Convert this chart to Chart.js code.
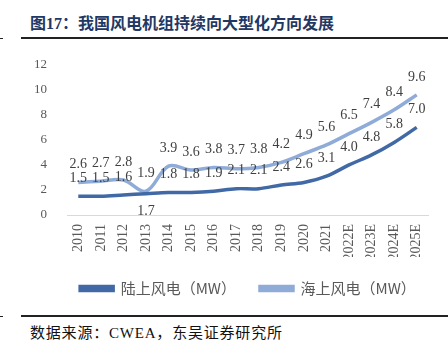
<!DOCTYPE html>
<html>
<head>
<meta charset="utf-8">
<script src="https://cdn.jsdelivr.net/npm/chart.js@4/dist/chart.umd.min.js"></script>
<style>
  html, body { margin: 0; padding: 0; background: #fff; }
  #wrap { position: relative; width: 448px; height: 348px; overflow: hidden; }
  #title { position: absolute; left: 30px; top: 10px; font-family: "Liberation Serif", "Noto Sans CJK SC", serif; font-weight: bold; font-size: 16px; color: #1f3864; white-space: nowrap; }
  .rule { position: absolute; height: 2px; background: #222; }
  #source { position: absolute; left: 30px; top: 321px; font-family: "Liberation Serif", "Noto Sans CJK SC", serif; font-size: 15px; letter-spacing: 0.8px; color: #111; white-space: nowrap; }
  #box { position: absolute; left: 0; top: 45px; width: 448px; height: 265px; }
</style>
</head>
<body>
<div id="wrap">
  <div id="title">图17：我国风电机组持续向大型化方向发展</div>
  <div class="rule" style="left:21px; right:0; top:37px;"></div>
  <div class="rule" style="left:0; width:3px; top:38px; height:1px;"></div>
  <div id="box"><canvas id="chart"></canvas></div>
  <div class="rule" style="left:21px; right:0; top:315px;"></div>
  <div class="rule" style="left:0; width:3px; top:316px; height:1px;"></div>
  <div id="source">数据来源：CWEA，东吴证券研究所</div>
</div>
<script>
// 年份与两条曲线的数据（单机容量 MW）
const years = ['2010', '2011', '2012', '2013', '2014', '2015', '2016', '2017',
               '2018', '2019', '2020', '2021', '2022E', '2023E', '2024E', '2025E'];
const onshore  = [1.5, 1.5, 1.6, 1.7, 1.8, 1.8, 1.9, 2.1, 2.1, 2.4, 2.6, 3.1, 4.0, 4.8, 5.8, 7.0];
const offshore = [2.6, 2.7, 2.8, 1.9, 3.9, 3.6, 3.8, 3.7, 3.8, 4.2, 4.9, 5.6, 6.5, 7.4, 8.4, 9.6];
// 陆上 2013 的标签放在线下方
const onshoreBelow = [3];

const serif = '"Liberation Serif", "Times New Roman", serif';

// 简单的数据标签插件
const valueLabels = {
    id: 'valueLabels',
    afterDatasetsDraw(chart) {
        const ctx = chart.ctx;
        ctx.save();
        ctx.font = '14px ' + serif;
        ctx.fillStyle = '#404040';
        ctx.textAlign = 'center';
        ctx.textBaseline = 'middle';
        chart.data.datasets.forEach((ds, i) => {
            const meta = chart.getDatasetMeta(i);
            meta.data.forEach((pt, j) => {
                let dy = -18;
                if (i === 0 && onshoreBelow.includes(j)) dy = 18;
                ctx.fillText(ds.data[j].toFixed(1), pt.x, pt.y + dy);
            });
        });
        ctx.restore();
    }
};

// 图例整体右移一点，和原图对齐
const legendShift = {
    id: 'legendShift',
    afterLayout(chart) {
        chart.legend.left += 34;
        chart.legend.right += 34;
    }
};

const ctx = document.getElementById('chart').getContext('2d');
new Chart(ctx, {
    type: 'line',
    data: {
        labels: years,
        datasets: [{
            label: '陆上风电（MW）',
            data: onshore,
            borderColor: '#4169a6',
            backgroundColor: '#4169a6',
            borderWidth: 3.5,
            tension: 0.35,
            pointRadius: 0
        }, {
            label: '海上风电（MW）',
            data: offshore,
            borderColor: '#8fabd8',
            backgroundColor: '#8fabd8',
            borderWidth: 3.5,
            tension: 0.35,
            pointRadius: 0
        }]
    },
    options: {
        responsive: true,
        maintainAspectRatio: false,
        animation: false,
        layout: { padding: { top: 10, right: 20, left: 0, bottom: 4 } },
        plugins: {
            legend: {
                position: 'bottom',
                labels: {
                    boxWidth: 33,
                    boxHeight: 4,
                    padding: 24,
                    color: '#595959',
                    font: { family: '"Noto Sans CJK SC", sans-serif', size: 15 }
                }
            },
            tooltip: { enabled: false }
        },
        scales: {
            x: {
                offset: true,
                grid: { display: false },
                border: { color: '#d9d9d9', width: 1 },
                ticks: {
                    minRotation: 90,
                    maxRotation: 90,
                    color: '#595959',
                    padding: 1,
                    font: { family: serif, size: 14 }
                },
                afterFit(scale) { scale.height = 42; }
            },
            y: {
                min: 0,
                max: 12,
                grid: { display: false },
                border: { display: false },
                ticks: {
                    stepSize: 2,
                    color: '#595959',
                    padding: 12,
                    font: { family: serif, size: 13 }
                },
                afterFit(scale) { scale.width = 67; }
            }
        }
    },
    plugins: [valueLabels, legendShift]
});
</script>
</body>
</html>
